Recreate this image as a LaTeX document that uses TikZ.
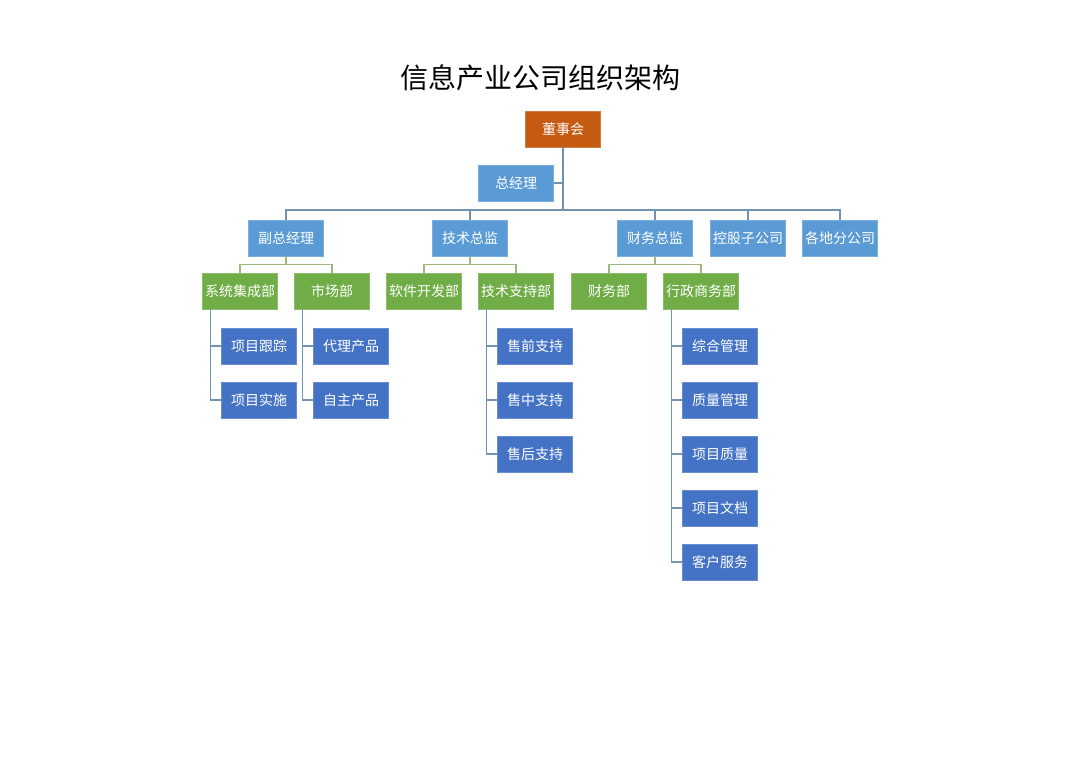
\documentclass[tikz,border=0pt]{standalone}
\usepackage{fontspec}
\setmainfont{Noto Sans CJK SC}
\usepackage{tikz}
\definecolor{boardorange}{HTML}{C55A11}
\definecolor{lightblue}{HTML}{5B9BD5}
\definecolor{deptgreen}{HTML}{70AD47}
\definecolor{darkblue}{HTML}{4472C4}
\definecolor{blueline}{HTML}{7391B0}
\definecolor{greenline}{HTML}{9DB77F}
\tikzset{
  box/.style={minimum width=75pt,minimum height=36pt,inner sep=0pt,text=white,
              font=\fontsize{14}{16}\selectfont},
  board/.style={box,fill=boardorange,draw=boardorange!80!white},
  lead/.style={box,fill=lightblue,draw=lightblue!80!white},
  dept/.style={box,fill=deptgreen,draw=deptgreen!80!white},
  unit/.style={box,fill=darkblue,draw=darkblue!80!white},
  bline/.style={blueline,line width=1.2pt},
  gline/.style={greenline,line width=1.2pt}
}

\begin{document}
\begin{tikzpicture}[x=1pt,y=-1pt]
     \useasboundingbox (0,0) rectangle (1080,763);
     \node (title) at (540,78) {\fontsize{28}{32}\selectfont 信息产业公司组织架构};
     % top
     \node[board] (dsh)  at (563,129) {董事会};
     \node[lead]  (zjl)  at (516,183) {总经理};
     % second level
     \node[lead]  (fzjl) at (286,238) {副总经理};
     \node[lead]  (jszj) at (470,238) {技术总监};
     \node[lead]  (cwzj) at (655,238) {财务总监};
     \node[lead]  (kgzgs) at (748,238) {控股子公司};
     \node[lead]  (gdfgs) at (840,238) {各地分公司};
     % departments
     \node[dept]  (xtjc) at (240,291) {系统集成部};
     \node[dept]  (scb)  at (332,291) {市场部};
     \node[dept]  (rjkf) at (424,291) {软件开发部};
     \node[dept]  (jszc) at (516,291) {技术支持部};
     \node[dept]  (cwb)  at (609,291) {财务部};
     \node[dept]  (xzsw) at (701,291) {行政商务部};
     % units
     \node[unit]  (xmgz) at (259,346) {项目跟踪};
     \node[unit]  (xmss) at (259,400) {项目实施};
     \node[unit]  (dlcp) at (351,346) {代理产品};
     \node[unit]  (zzcp) at (351,400) {自主产品};
     \node[unit]  (sqzc) at (535,346) {售前支持};
     \node[unit]  (szzc) at (535,400) {售中支持};
     \node[unit]  (shzc) at (535,454) {售后支持};
     \node[unit]  (zhgl) at (720,346) {综合管理};
     \node[unit]  (zlgl) at (720,400) {质量管理};
     \node[unit]  (xmzl) at (720,454) {项目质量};
     \node[unit]  (xmwd) at (720,508) {项目文档};
     \node[unit]  (khfw) at (720,562) {客户服务};
     % connectors
     \coordinate (bus) at (563,210);
     \draw[bline] (dsh.south) -- (bus);
     \draw[bline] (zjl.east) -- (zjl.east -| dsh.south);
     \foreach \n in {fzjl,jszj,cwzj,kgzgs,gdfgs}
       \draw[bline] (bus) -| (\n.north);
     \foreach \p/\c in {fzjl/xtjc,fzjl/scb,jszj/rjkf,jszj/jszc,cwzj/cwb,cwzj/xzsw}
       \draw[gline] (\p.south) -- +(0,8) -| (\c.north);
     \foreach \p/\c in {xtjc/xmgz,xtjc/xmss,scb/dlcp,scb/zzcp,jszc/sqzc,jszc/szzc,jszc/shzc,
                        xzsw/zhgl,xzsw/zlgl,xzsw/xmzl,xzsw/xmwd,xzsw/khfw}
       \draw[bline] ([xshift=8pt]\p.south west) |- (\c.west);
\end{tikzpicture}
\end{document}
